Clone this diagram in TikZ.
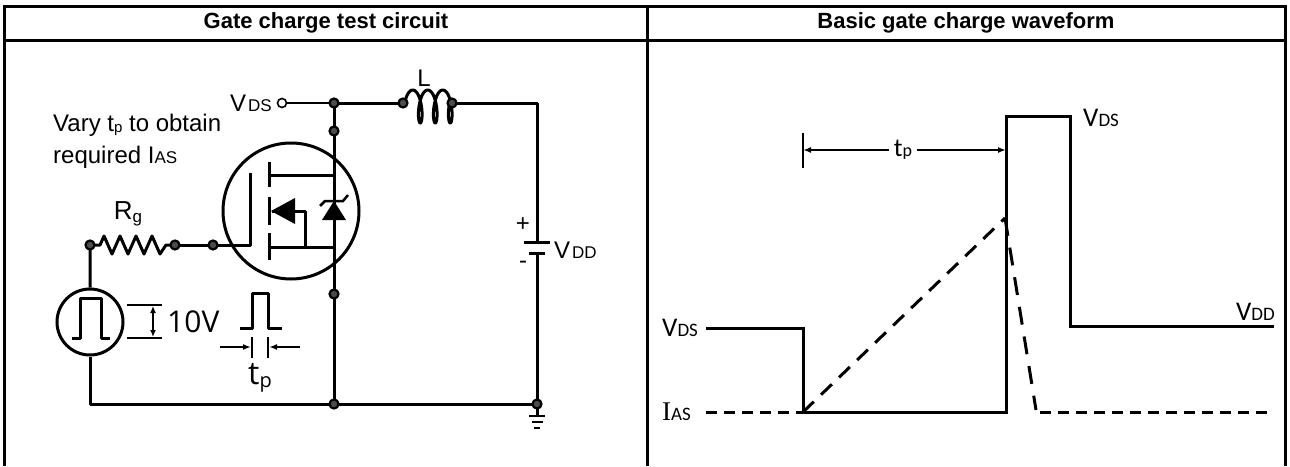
\documentclass[tikz,border=0pt]{standalone}
\usepackage{fontspec}
\setmainfont{Liberation Sans}
\newfontfamily\wavefont{Carlito}
\newfontfamily\osfont{Open Sans}
\newfontfamily\serfont{Liberation Serif}
\usetikzlibrary{arrows.meta}
\newcommand\smalltxt[2]{{\fontsize{#1}{#1}\selectfont #2}}
\begin{document}
\begin{tikzpicture}[x=1pt,y=-1pt,
  wire/.style={line width=3pt, line join=round},
  thinline/.style={line width=1.6pt},
  border/.style={line width=3pt},
  jdot/.style={circle, draw=black, fill=gray!60!black, line width=2.2pt, minimum size=9pt, inner sep=0pt},
  term/.style={circle, draw=black, fill=white, line width=1.6pt, minimum size=9pt, inner sep=0pt},
  hdr/.style={font=\fontsize{22}{26}\selectfont\bfseries},
  clab/.style={font=\fontsize{24}{28}\selectfont, inner sep=0pt},
  wlab/.style={font=\wavefont\fontsize{27}{30}\selectfont, inner sep=0pt},
  arr/.style={-{Latex[length=8pt,width=6pt]}, line width=1.6pt},
  dsh/.style={line width=3pt, dash pattern=on 11pt off 7pt},
]
\useasboundingbox (0,0) rectangle (1290,466);
% ---------- table ----------
\draw[border] (4.5,466) -- (4.5,6.5) -- (1285,6.5) -- (1285,466);
\draw[border] (4.5,40) -- (1285,40);
\draw[border] (647,6.5) -- (647,466);
\node[hdr] (h1) at (326,23) {Gate charge test circuit};
\node[hdr] (h2) at (966,23) {Basic gate charge waveform};

% ---------- circuit coordinates ----------
\coordinate (vt) at (282,103);
\coordinate (nA) at (334,103);
\coordinate (nB) at (334,131);
\coordinate (nC) at (334,294);
\coordinate (nD) at (334,404);
\coordinate (L1) at (403,103);
\coordinate (L2) at (452,103);
\coordinate (tr) at (537,103);
\coordinate (bt) at (537,242);
\coordinate (bb) at (537,253);
\coordinate (gnd) at (537,404);
\coordinate (bl) at (90,404);
\coordinate (g0) at (90,245);
\coordinate (r1) at (100,245);
\coordinate (r2) at (166,245);
\coordinate (g1) at (175,245);
\coordinate (g2) at (213,245);
\coordinate (gv) at (250,245);
\coordinate (gt) at (250,173);

% pulse source
\node[circle, draw, line width=3pt, minimum size=66pt, inner sep=0pt] (src) at (90,322) {};
\draw[wire] (72,338) -- (80,338) -- (80,298) -- (101,298) -- (101,338) -- (110,338);

% MOSFET circle
\node[circle, draw, line width=3pt, minimum size=136pt, inner sep=0pt] (Q) at (291,211) {};

% wires
\draw[line width=2pt] (vt) -- (nA);
\draw[wire] (nA) -- (L1);
% inductor coil
\draw[wire, line join=round] (L1) -- plot[domain=-pi/2:11*pi/2, samples=160, variable=\t] ({412.75 + 15*\t/(2*pi) + 5*sin(\t r)}, {106.5 - 16.5*cos(\t r)}) -- (L2);
\draw[wire] (L2) -- (tr) -- (bt);
\draw[wire] (bb) -- (gnd) -- (bl) -- (src.south);
\draw[wire] (src.north) -- (g0) -- (r1) -- ++(4,-9) -- ++(8,18) -- ++(8,-18) -- ++(8,18) -- ++(8,-18) -- ++(8,18) -- ++(8,-18) -- ++(8,18) -- (r2) -- (g1);
\draw[wire] (g1) -- (g2) -- (gv) -- (gt);
\draw[wire] (nA) -- (nD);

% battery plates
\draw[wire] (bt) ++(-13,0) -- ++(26,0);
\draw[wire] (bb) ++(-8,0) -- ++(16,0);
\node[font=\fontsize{24}{24}\selectfont] (bplus) at (523,225) {+};
\node[font=\fontsize{24}{24}\selectfont] (bminus) at (523,265) {-};

% ground
\draw[wire] (gnd) -- ++(0,12);
\draw[line width=2.5pt] (529,416) -- (545,416);
\draw[line width=2.5pt] (531.5,422) -- (542.5,422);
\draw[line width=2.5pt] (534,428) -- (540,428);

% MOSFET internals
\draw[wire] (269,162) -- (269,187);
\draw[wire] (269,197) -- (269,225);
\draw[wire] (269,233) -- (269,260);
\draw[wire] (269,175) -- (334,175);
\draw[wire] (269,247) -- (334,247);
\draw[wire] (272,211) -- (305,211) -- (305,247);
\fill (271,211) -- (295,198) -- (295,224) -- cycle;
\fill (334,201) -- (322,220) -- (346,220) -- cycle;
\draw[line width=2.5pt] (320,206) -- (325,201) -- (343,201) -- (348,195);

% junction dots
\node[term] (dT) at (vt) {};
\node[jdot] (dA) at (nA) {};
\node[jdot] (dB) at (nB) {};
\node[jdot] (dC) at (nC) {};
\node[jdot] (dD) at (nD) {};
\node[jdot] (dL1) at (L1) {};
\node[jdot] (dL2) at (L2) {};
\node[jdot] (dG) at (gnd) {};
\node[jdot] (dg0) at (g0) {};
\node[jdot] (dg1) at (g1) {};
\node[jdot] (dg2) at (g2) {};

% circuit labels
\node[clab, anchor=east] (lvds) at (272,103) {V\kern2pt\smalltxt{17}{DS}};
\node[clab] (lL) at (424,78) {L};
\node[clab, anchor=west] (vary1) at (53,125) {Vary t\raisebox{-1pt}{\smalltxt{15}{p}} to obtain};
\node[clab, anchor=west] (vary2) at (53,157) {required I\smalltxt{17}{AS}};
\node[font=\fontsize{26}{26}\selectfont, inner sep=0pt] (lRg) at (128,214) {R\raisebox{-3pt}{\smalltxt{17}{g}}};
\node[clab, anchor=west] (lvdd) at (554,250) {V\kern2pt\smalltxt{17}{DD}};

% 10V marker
\draw[line width=2pt] (127,305) -- (162,305);
\draw[line width=2pt] (127,338) -- (162,338);
\draw[{Latex[length=7pt,width=6pt]}-{Latex[length=7pt,width=6pt]}, line width=1.6pt] (153,306) -- (153,337);
\node[font=\osfont\fontsize{30}{30}\selectfont, anchor=west, inner sep=0pt] (l10) at (167,322) {10V};

% small pulse and tp
\draw[wire] (240,328) -- (252,328) -- (252,293) -- (268,293) -- (268,328) -- (282,328);
\draw[thinline] (252,337) -- (252,358);
\draw[thinline] (268,337) -- (268,358);
\draw[arr] (220,347) -- (251,347);
\draw[arr] (300,347) -- (269,347);
\node[font=\osfont\fontsize{32}{32}\selectfont, inner sep=0pt] (ltp) at (260,378) {t\raisebox{-3pt}{\smalltxt{20}{p}}};

% ---------- waveform ----------
\coordinate (w0) at (706,328);
\coordinate (w1) at (803,328);
\coordinate (w2) at (803,412);
\coordinate (w3) at (1006,412);
\coordinate (w4) at (1006,116);
\coordinate (w5) at (1070,116);
\coordinate (w6) at (1070,326);
\coordinate (w7) at (1274,326);
\coordinate (pk) at (1005,218);
\coordinate (fl) at (1036,410);
\draw[wire, line join=miter] (w0) -- (w1) -- (w2) -- (w3) -- (w4) -- (w5) -- (w6) -- (w7);
\draw[dsh] (706,412) -- (w2);
\draw[dsh, dash pattern=on 15pt off 10pt] (w2) -- (pk);
\draw[dsh, dash pattern=on 18pt off 12pt] (pk) -- (fl);
\draw[dsh] (1040,412) -- (1268,412);

\node[wlab, anchor=west] (wvds) at (662,328) {V\smalltxt{19}{DS}};
\node[wlab, anchor=west] (wias) at (662,412) {{\serfont I}\smalltxt{19}{AS}};
\node[wlab, anchor=west] (wvds2) at (1083,118) {V\smalltxt{19}{DS}};
\node[wlab, anchor=east] (wvdd) at (1275,312) {V\smalltxt{19}{DD}};
\node[font=\wavefont\fontsize{26}{26}\selectfont, inner sep=5pt] (wtp) at (903,150) {t\smalltxt{18}{p}};
\coordinate (tpl) at (803,150);
\coordinate (tpr) at (1006,150);
\draw[line width=2pt] (803,133) -- (803,168);
\draw[arr] (wtp.west) -- (tpl);
\draw[arr] (wtp.east) -- (tpr);
\end{tikzpicture}
\end{document}
